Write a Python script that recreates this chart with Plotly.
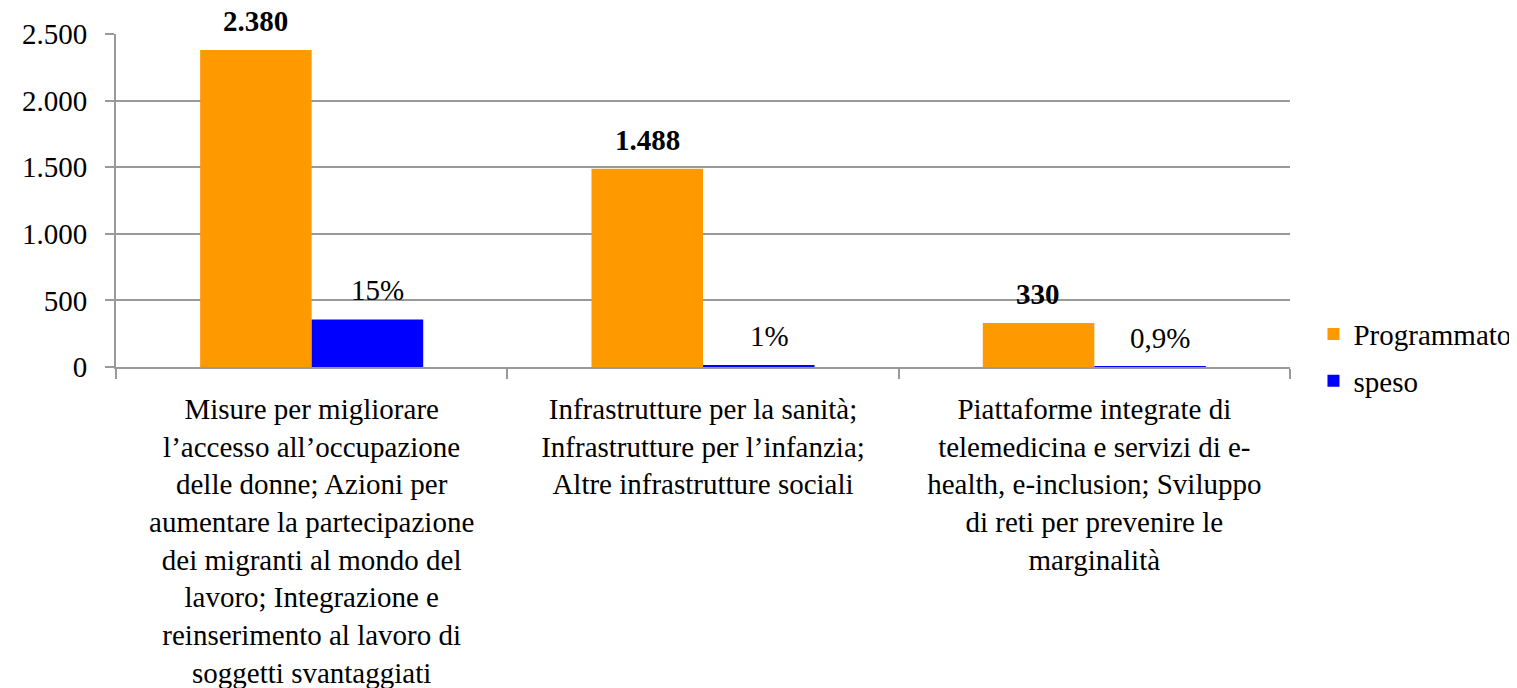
import plotly.graph_objects as go

categories = [
    "Misure per migliorare<br>l’accesso all’occupazione<br>delle donne; Azioni per<br>aumentare la partecipazione<br>dei migranti al mondo del<br>lavoro; Integrazione e<br>reinserimento al lavoro di<br>soggetti svantaggiati",
    "Infrastrutture per la sanità;<br>Infrastrutture per l’infanzia;<br>Altre infrastrutture sociali",
    "Piattaforme integrate di<br>telemedicina e servizi di e-<br>health, e-inclusion; Sviluppo<br>di reti per prevenire le<br>marginalità",
]
programmato = [2380, 1488, 330]
programmato_labels = ["2.380", "1.488", "330"]
speso = [357, 15, 3]
speso_labels = ["15%", "1%", "0,9%"]
tick_vals = [0, 500, 1000, 1500, 2000, 2500]
tick_text = ["0", "500", "1.000", "1.500", "2.000", "2.500"]

FONT = "'Liberation Serif', 'Times New Roman', 'DejaVu Serif', serif"
fs = 29

fig = go.Figure()
fig.add_trace(go.Bar(name="Programmato", x=categories, y=programmato, legendgroup="p",
                     marker=dict(color="#FF9900", line=dict(width=0))))
fig.add_trace(go.Bar(name="speso", x=categories, y=speso, legendgroup="s",
                     marker=dict(color="#0000FF", line=dict(width=0))))

annotations = []
for c, v, t in zip(categories, programmato, programmato_labels):
    annotations.append(dict(x=c, y=v, text="<b>%s</b>" % t, xshift=-56, yshift=11,
                            yanchor="bottom", showarrow=False,
                            font=dict(family=FONT, size=fs, color="black")))
for c, v, t in zip(categories, speso, speso_labels):
    annotations.append(dict(x=c, y=v, text=t, xshift=66, yshift=11,
                            yanchor="bottom", showarrow=False,
                            font=dict(family=FONT, size=fs, color="black")))

fig.update_layout(
    width=1509, height=680,
    margin=dict(l=108, r=227, t=26, b=321, autoexpand=False),
    paper_bgcolor="white", plot_bgcolor="white",
    barmode="group", bargap=0.43, bargroupgap=0,
    font=dict(family=FONT, size=fs, color="black"),
    showlegend=True,
    legend=dict(x=1.02, y=0.175, xanchor="left", yanchor="top",
                font=dict(family=FONT, size=fs, color="black"),
                bgcolor="rgba(0,0,0,0)", tracegroupgap=6),
    annotations=annotations,
    xaxis=dict(showline=True, linecolor="#999999", linewidth=2,
               ticks="outside", tickson="boundaries", ticklen=10,
               tickcolor="#999999", tickwidth=2,
               tickfont=dict(family=FONT, size=fs, color="black"),
               tickangle=0, showgrid=False, ticklabelstandoff=15),
    yaxis=dict(range=[0, 2500], tickvals=tick_vals, ticktext=tick_text,
               showline=True, linecolor="#999999", linewidth=2,
               ticks="outside", ticklen=9, tickcolor="#999999", tickwidth=2,
               showgrid=True, gridcolor="#999999", gridwidth=2,
               zeroline=False,
               tickfont=dict(family=FONT, size=fs, color="black"),
               ticklabelstandoff=12),
)

fig.write_html("out.html")
